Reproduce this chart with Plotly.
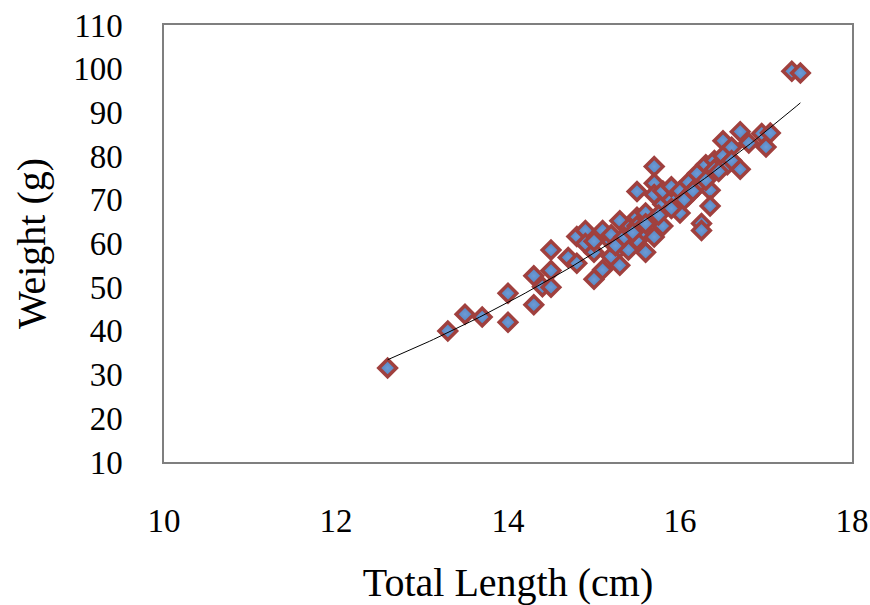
import numpy as np
import plotly.graph_objects as go

# Total length (cm) and weight (g)
length_cm = [12.6, 13.3, 13.5, 13.7, 14.0, 14.0, 14.3, 14.3, 14.4, 14.5, 14.5, 14.5,
             14.7, 14.8, 14.8, 14.9, 14.9, 15.0, 15.0, 15.0, 15.1, 15.1, 15.2, 15.2,
             15.2, 15.3, 15.3, 15.3, 15.4, 15.4, 15.4, 15.5, 15.5, 15.5, 15.5, 15.6,
             15.6, 15.6, 15.7, 15.7, 15.7, 15.7, 15.8, 15.8, 15.8, 15.9, 15.9, 16.0,
             16.0, 16.1, 16.1, 16.2, 16.2, 16.25, 16.25, 16.3, 16.35, 16.35, 16.4, 16.4,
             16.5, 16.5, 16.55, 16.6, 16.7, 16.7, 16.8, 16.95, 17.05, 17.0, 17.3, 17.4,
             15.25, 15.35, 15.45, 15.6, 15.75, 15.9, 16.05, 16.15, 16.3, 16.45, 16.6]
weight_g = [31.5, 40.0, 43.8, 43.2, 48.6, 42.0, 52.6, 46.0, 50.1, 58.5, 53.8, 50.0,
            56.8, 55.5, 61.6, 63.0, 60.0, 51.8, 58.0, 60.5, 54.0, 63.0, 57.0, 60.4,
            62.0, 55.0, 65.2, 59.0, 61.0, 63.5, 58.5, 71.9, 66.0, 60.8, 64.0, 58.0,
            62.5, 67.0, 77.6, 73.8, 71.2, 61.5, 64.0, 69.0, 72.0, 70.0, 73.0, 67.0,
            72.0, 71.0, 74.0, 73.0, 76.0, 64.6, 63.0, 78.0, 72.2, 68.6, 79.0, 77.0,
            83.5, 80.0, 78.0, 82.0, 85.6, 77.0, 83.0, 85.2, 85.3, 82.1, 99.4, 99.0,
            59.5, 61.5, 62.5, 64.5, 66.5, 68.0, 70.0, 72.0, 74.5, 76.5, 79.0]

x_ticks = [10, 12, 14, 16, 18]
y_ticks = [10, 20, 30, 40, 50, 60, 70, 80, 90, 100, 110]

# Power trend line W = a * L^b fitted in log-log space
b, log_a = np.polyfit(np.log(length_cm), np.log(weight_g), 1)
trend_x = np.linspace(min(length_cm), max(length_cm), 100)
trend_y = np.exp(log_a) * trend_x ** b

fig = go.Figure()
fig.add_trace(go.Scatter(
    x=length_cm, y=weight_g, mode="markers",
    marker=dict(symbol="diamond", size=13.5, color="#4F81BD",
                gradient=dict(type="radial", color="#6E9BD6"),
                line=dict(color="#A0403E", width=3.5)),
    showlegend=False, hoverinfo="x+y"))
fig.add_trace(go.Scatter(
    x=trend_x, y=trend_y, mode="lines",
    line=dict(color="black", width=1), showlegend=False, hoverinfo="skip"))

font_family = "Liberation Serif, Times New Roman, serif"
fig.update_layout(
    width=870, height=605,
    margin=dict(l=164, r=18, t=25, b=143),
    paper_bgcolor="white", plot_bgcolor="white",
    font=dict(family=font_family, size=33, color="black"),
)
fig.update_xaxes(
    range=[10, 18], tickvals=x_ticks, ticktext=[str(v) for v in x_ticks],
    showgrid=False, zeroline=False, showline=True, mirror=True, automargin=False,
    linecolor="#7F7F7F", linewidth=1.5, ticks="", ticklabelstandoff=29,
    title=dict(text="Total Length (cm)", standoff=35),
)
fig.update_yaxes(
    range=[10, 110], tickvals=y_ticks, ticktext=[str(v) for v in y_ticks],
    showgrid=False, zeroline=False, showline=True, mirror=True, automargin=False,
    linecolor="#7F7F7F", linewidth=1.5, ticks="", ticklabelstandoff=33,
    title=dict(text="Weight (g)", standoff=15),
)
fig.write_html("out.html")
